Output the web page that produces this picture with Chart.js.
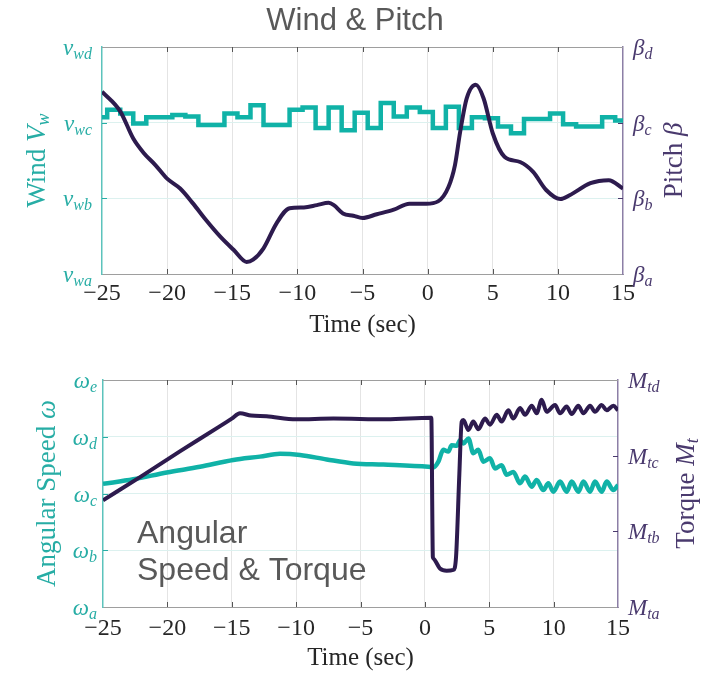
<!DOCTYPE html>
<html>
<head>
<meta charset="utf-8">
<script src="https://cdn.jsdelivr.net/npm/chart.js@4.4.1/dist/chart.umd.min.js"></script>
<style>
  html, body { margin: 0; padding: 0; background: #fff; }
  #wrap { position: relative; width: 710px; height: 676px; }
  canvas { position: absolute; left: 0; }
  #windChart { top: 0; }
  #speedChart { top: 340px; }
</style>
</head>
<body>
<div id="wrap">
  <canvas id="windChart" width="710" height="340"></canvas>
  <canvas id="speedChart" width="710" height="336"></canvas>
</div>
<script>
// wind: value holds from each time until the next one
const windTime = [-25, -24.6, -23.6, -22.6, -21.6, -20.6, -19.6, -18.6, -17.6, -16.6, -15.6, -14.6, -13.6,
  -12.6, -11.6, -10.6, -9.6, -8.6, -7.6, -6.6, -5.6, -4.6, -3.6, -2.6, -1.6, -0.6, 0.4, 1.4, 2.4, 3.4,
  4.4, 5.4, 6.4, 7.4, 8.4, 9.4, 10.4, 11.4, 12.4, 13.4, 14.4, 15];
const windSpeed = [2.07, 2.17, 2.12, 1.99, 2.07, 2.07, 2.10, 2.08, 1.97, 1.97, 2.12, 2.07, 2.23,
  1.97, 1.97, 2.17, 2.20, 1.93, 2.20, 1.90, 2.13, 1.93, 2.26, 2.08, 2.20, 2.14, 1.93, 2.21, 1.93, 2.07,
  2.06, 1.95, 1.86, 2.05, 2.05, 2.12, 1.98, 1.95, 1.95, 2.07, 2.03, 2.03];

const pitchTime = [-25, -23.6, -22.6, -21.8, -20.9, -20.0, -19.0, -18.0, -17.0, -15.9, -14.9, -13.9, -13.4,
  -12.6, -11.6, -10.6, -9.5, -8.5, -7.6, -7.2, -6.5, -5.7, -5.0, -3.9, -2.6, -1.4, -0.1, 0.8, 1.6, 2.1,
  2.5, 3.0, 3.7, 4.3, 5.0, 5.9, 7.1, 8.1, 9.1, 10.2, 10.9, 12.5, 13.9, 15.0];
const pitchAngle = [2.41, 2.15, 1.79, 1.60, 1.44, 1.26, 1.13, 0.93, 0.71, 0.49, 0.32, 0.16, 0.19,
  0.34, 0.67, 0.87, 0.88, 0.91, 0.94, 0.91, 0.80, 0.77, 0.74, 0.79, 0.85, 0.93, 0.93, 0.96, 1.15, 1.44,
  1.88, 2.32, 2.50, 2.32, 1.86, 1.55, 1.48, 1.35, 1.11, 0.99, 1.04, 1.20, 1.24, 1.13];

const speedTime = [-25, -22.65, -20.05, -17.47, -14.88, -12.81, -11.25, -9.7, -7.63, -5.56, -3.23, 0.27,
  0.66, 1.05, 1.43, 1.82, 2.08, 2.47, 2.73, 2.99, 3.38, 3.76, 4.15, 4.54, 5.06, 5.45, 5.96, 6.35, 6.87,
  7.39, 7.78, 8.30, 8.68, 9.20, 9.59, 9.98, 10.50, 11.01, 11.40, 11.92, 12.31, 12.83, 13.21, 13.73,
  14.12, 14.64, 15.0];
const speedValue = [2.17, 2.25, 2.37, 2.47, 2.59, 2.65, 2.70, 2.68, 2.60, 2.53, 2.51, 2.47,
  2.46, 2.56, 2.77, 2.74, 2.85, 2.84, 2.94, 2.88, 2.97, 2.71, 2.77, 2.56, 2.62, 2.44, 2.50, 2.33, 2.38,
  2.18, 2.30, 2.12, 2.24, 2.06, 2.18, 2.03, 2.21, 2.03, 2.21, 2.03, 2.21, 2.03, 2.21, 2.03,
  2.21, 2.06, 2.15];

const torqueTime = [-25, -22, -19, -16, -15, -14.36, -13.5, -12.3, -10.0, -7.1, -3.0, 0.5, 0.62, 0.66,
  1.17, 1.69, 2.21, 2.42, 2.68, 2.86, 2.99, 3.38, 3.76, 4.15, 4.67, 5.06, 5.58, 5.96, 6.48, 6.87, 7.39,
  7.78, 8.30, 8.68, 9.07, 9.46, 10.11, 10.50, 11.01, 11.40, 11.92, 12.31, 12.83, 13.21, 13.73, 14.12,
  14.64, 15.0];
const torqueValue = [1.41, 1.73, 2.06, 2.38, 2.49, 2.56, 2.53, 2.52, 2.48, 2.49, 2.48, 2.50, 0.66, 0.64,
  0.51, 0.48, 0.49, 0.66, 1.77, 2.45, 2.47, 2.34, 2.45, 2.35, 2.49, 2.41, 2.54, 2.45, 2.60, 2.49, 2.63,
  2.54, 2.66, 2.56, 2.74, 2.58, 2.67, 2.56, 2.65, 2.55, 2.66, 2.56, 2.66, 2.58, 2.67, 2.60,
  2.66, 2.60];

const windTickLabels = [['v', 'wa'], ['v', 'wb'], ['v', 'wc'], ['v', 'wd']];
const pitchTickLabels = [['β', 'a'], ['β', 'b'], ['β', 'c'], ['β', 'd']];
const speedTickLabels = [['ω', 'a'], ['ω', 'b'], ['ω', 'c'], ['ω', 'd'], ['ω', 'e']];
const torqueTickLabels = [['M', 'ta'], ['M', 'tb'], ['M', 'tc'], ['M', 'td']];

const teal = '#10b2a7';
const purple = '#2d1b4e';
const tealText = '#27ada5';
const purpleText = '#4a3a6e';
const serif = '"Liberation Serif", "Times New Roman", serif';
const sans = '"Liberation Sans", Arial, sans-serif';
const clear = 'rgba(0,0,0,0)';

function buildPoints(times, values) {
  return times.map((t, i) => ({ x: t, y: values[i] }));
}

function drawRuns(ctx, runs, x, y, align) {
  let total = 0;
  runs.forEach(r => { ctx.font = r.font; total += ctx.measureText(r.text).width; });
  let cx = align === 'right' ? x - total : (align === 'center' ? x - total / 2 : x);
  runs.forEach(r => {
    ctx.font = r.font;
    ctx.fillText(r.text, cx, y + (r.dy || 0));
    cx += ctx.measureText(r.text).width;
  });
}

function mathLabel(pair) {
  return [
    { text: pair[0], font: 'italic 23px ' + serif },
    { text: pair[1], font: 'italic 16px ' + serif, dy: 4 }
  ];
}

// ticks inside the box, top spine, math tick labels and rotated axis titles
const axisDecor = {
  id: 'axisDecor',
  afterDraw(chart, args, opts) {
    const ctx = chart.ctx;
    const area = chart.chartArea;
    const sx = chart.scales.x;
    ctx.save();
    ctx.textAlign = 'left';
    ctx.textBaseline = 'alphabetic';

    ctx.strokeStyle = '#9e9e9e';
    ctx.lineWidth = 1;
    ctx.beginPath();
    ctx.moveTo(area.left, Math.round(area.top) + 0.5);
    ctx.lineTo(area.right, Math.round(area.top) + 0.5);
    ctx.stroke();
    ctx.strokeStyle = '#555';
    ctx.beginPath();
    sx.ticks.forEach((t, i) => {
      if (i === 0 || i === sx.ticks.length - 1) return;
      const px = Math.round(sx.getPixelForValue(t.value)) + 0.5;
      ctx.moveTo(px, area.top); ctx.lineTo(px, area.top + 5);
      ctx.moveTo(px, area.bottom); ctx.lineTo(px, area.bottom - 5);
    });
    ctx.stroke();

    [opts.left, opts.right].forEach((side, k) => {
      const scale = chart.scales[side.id];
      const isLeft = k === 0;
      const edge = isLeft ? area.left : area.right;
      ctx.strokeStyle = side.color;
      ctx.fillStyle = side.color;
      ctx.beginPath();
      scale.ticks.forEach((t, i) => {
        const py = Math.round(scale.getPixelForValue(t.value)) + 0.5;
        if (i > 0 && i < scale.ticks.length - 1) {
          ctx.moveTo(edge, py);
          ctx.lineTo(edge + (isLeft ? 5 : -5), py);
        }
        drawRuns(ctx, mathLabel(side.labels[i]), isLeft ? edge - side.gap : edge + side.gap, py + 7,
          isLeft ? 'right' : 'left');
      });
      ctx.stroke();

      ctx.save();
      ctx.translate(side.titleX, (area.top + area.bottom) / 2);
      ctx.rotate(-Math.PI / 2);
      drawRuns(ctx, side.title, 0, 8, 'center');
      ctx.restore();
    });

    if (opts.note) {
      ctx.fillStyle = '#595959';
      ctx.font = '32px ' + sans;
      opts.note.lines.forEach((line, i) => ctx.fillText(line, opts.note.x, opts.note.y + i * opts.note.step));
    }
    ctx.restore();
  }
};

function timeAxis(height, tickPad, titlePad) {
  return {
    type: 'linear',
    min: -25,
    max: 15,
    ticks: {
      stepSize: 5,
      padding: tickPad,
      color: '#262626',
      font: { family: serif, size: 24 },
      callback: v => (v < 0 ? '\u2212' + (-v) : String(v))
    },
    grid: {
      drawTicks: false,
      color: c => (c.index === 0 || c.tick.value === 15 ? clear : '#e4e4e4')
    },
    border: { color: '#9e9e9e', width: 1 },
    title: {
      display: true,
      text: 'Time (sec)',
      color: '#262626',
      font: { family: serif, size: 25, lineHeight: 1.2 },
      padding: { top: 0, bottom: titlePad }
    },
    afterFit: s => { s.height = height; }
  };
}

function valueAxis(position, max, width, borderColor, showGrid) {
  return {
    type: 'linear',
    position: position,
    min: 0,
    max: max,
    ticks: { stepSize: 1, display: false },
    grid: {
      display: showGrid,
      drawTicks: false,
      color: c => (c.index === 0 || c.tick.value === max ? clear : '#dcf1ef')
    },
    border: { color: borderColor, width: 1.5 },
    afterFit: s => { s.width = width; }
  };
}

const baseOptions = {
  responsive: false,
  animation: false,
  devicePixelRatio: 1,
  events: []
};

const titleFont = '27px ' + serif;
const titleItalic = 'italic 27px ' + serif;
const titleSub = 'italic 18px ' + serif;

new Chart(document.getElementById('windChart').getContext('2d'), {
  type: 'line',
  data: {
    datasets: [
      {
        label: 'Pitch',
        data: buildPoints(pitchTime, pitchAngle),
        yAxisID: 'yR',
        borderColor: purple,
        borderWidth: 4,
        pointRadius: 0,
        cubicInterpolationMode: 'monotone',
        borderJoinStyle: 'round',
        order: 0
      },
      {
        label: 'Wind',
        data: buildPoints(windTime, windSpeed),
        yAxisID: 'yL',
        borderColor: teal,
        borderWidth: 4.5,
        pointRadius: 0,
        stepped: 'before',
        order: 1
      }
    ]
  },
  options: {
    ...baseOptions,
    scales: {
      x: timeAxis(66, 5, 0),
      yL: valueAxis('left', 3, 102, '#5cc3bc', true),
      yR: valueAxis('right', 3, 87, '#8c7fa6', false)
    },
    plugins: {
      legend: { display: false },
      tooltip: { enabled: false },
      title: {
        display: true,
        text: 'Wind & Pitch',
        color: '#595959',
        font: { family: sans, size: 31, weight: 'normal', lineHeight: 1.2 },
        padding: { top: 3, bottom: 6.8 }
      },
      axisDecor: {
        left: {
          id: 'yL', labels: windTickLabels, color: tealText, gap: 10, titleX: 37,
          title: [{ text: 'Wind ', font: titleFont }, { text: 'V', font: titleItalic }, { text: 'w', font: titleSub, dy: 4 }]
        },
        right: {
          id: 'yR', labels: pitchTickLabels, color: purpleText, gap: 10, titleX: 674,
          title: [{ text: 'Pitch ', font: titleFont }, { text: 'β', font: titleItalic }]
        }
      }
    }
  },
  plugins: [axisDecor]
});

new Chart(document.getElementById('speedChart').getContext('2d'), {
  type: 'line',
  data: {
    datasets: [
      {
        label: 'Torque',
        data: buildPoints(torqueTime, torqueValue),
        yAxisID: 'yR',
        borderColor: purple,
        borderWidth: 4,
        pointRadius: 0,
        cubicInterpolationMode: 'monotone',
        borderJoinStyle: 'round',
        order: 0
      },
      {
        label: 'Angular speed',
        data: buildPoints(speedTime, speedValue),
        yAxisID: 'yL',
        borderColor: teal,
        borderWidth: 4.5,
        pointRadius: 0,
        cubicInterpolationMode: 'monotone',
        borderJoinStyle: 'round',
        order: 1
      }
    ]
  },
  options: {
    ...baseOptions,
    layout: { padding: { top: 40 } },
    scales: {
      x: timeAxis(69, 7, 3),
      yL: valueAxis('left', 4, 103, '#5cc3bc', true),
      yR: valueAxis('right', 3, 92, '#8c7fa6', false)
    },
    plugins: {
      legend: { display: false },
      tooltip: { enabled: false },
      axisDecor: {
        left: {
          id: 'yL', labels: speedTickLabels, color: tealText, gap: 6, titleX: 47,
          title: [{ text: 'Angular Speed ', font: titleFont }, { text: 'ω', font: titleItalic }]
        },
        right: {
          id: 'yR', labels: torqueTickLabels, color: purpleText, gap: 10, titleX: 686,
          title: [{ text: 'Torque ', font: titleFont }, { text: 'M', font: titleItalic }, { text: 't', font: titleSub, dy: 4 }]
        },
        note: { lines: ['Angular', 'Speed & Torque'], x: 137, y: 203, step: 37 }
      }
    }
  },
  plugins: [axisDecor]
});
</script>
</body>
</html>
